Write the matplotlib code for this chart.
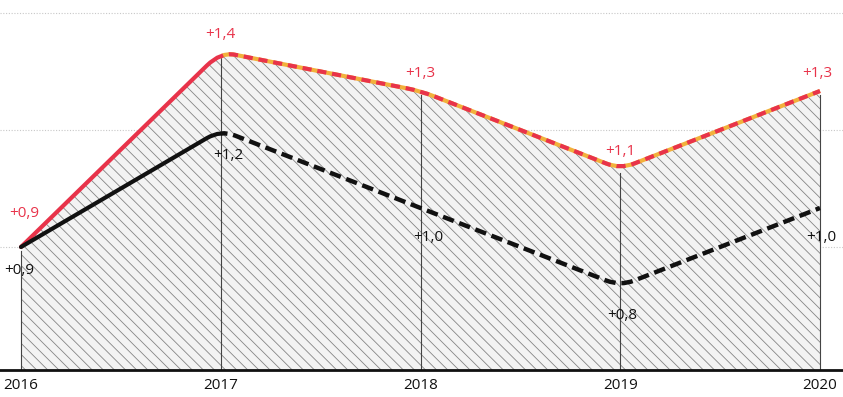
import matplotlib
matplotlib.use("Agg")
import matplotlib.pyplot as plt
from matplotlib.path import Path
from matplotlib.patches import PathPatch, Rectangle

years = [2016, 2017, 2018, 2019, 2020]
red_vals = [0.9, 1.4, 1.3, 1.1, 1.3]
black_vals = [0.9, 1.2, 1.0, 0.8, 1.0]
red_labels = ["+0,9", "+1,4", "+1,3", "+1,1", "+1,3"]
black_labels = ["+0,9", "+1,2", "+1,0", "+0,8", "+1,0"]
grid_vals = [0.9, 1.2, 1.5]

RED = "#e8334a"
ORANGE = "#f2b13c"
BASE = 0.5846
plt.rcParams["font.family"] = ["Open Sans", "DejaVu Sans"]
plt.rcParams["hatch.linewidth"] = 0.6

fig = plt.figure(figsize=(8.43, 3.97), dpi=100)
ax = fig.add_axes([0, 27 / 397, 1, 370 / 397])
ax.set_xlim(2016 - 21 / 199.75, 2020 + 23 / 199.75)
ax.set_ylim(BASE, 1.5333)
ax.axis("off")


def rounded(xs, ys, frac=0.07):
    """Polyline through the points with softened interior corners."""
    verts = [(xs[0], ys[0])]
    codes = [Path.MOVETO]
    for i in range(1, len(xs) - 1):
        px, py = xs[i - 1], ys[i - 1]
        cx, cy = xs[i], ys[i]
        nx, ny = xs[i + 1], ys[i + 1]
        a = (cx + (px - cx) * frac, cy + (py - cy) * frac)
        b = (cx + (nx - cx) * frac, cy + (ny - cy) * frac)
        verts += [a, (cx, cy), b]
        codes += [Path.LINETO, Path.CURVE3, Path.CURVE3]
    verts.append((xs[-1], ys[-1]))
    codes.append(Path.LINETO)
    return Path(verts, codes)


def line(xs, ys, clip=None, **kw):
    p = PathPatch(rounded(xs, ys), fill=False, **kw)
    ax.add_patch(p)
    if clip is not None:
        x0, x1 = clip
        r = Rectangle((x0, 0), x1 - x0, 3, transform=ax.transData)
        p.set_clip_path(r)
    return p


# dotted guide lines
for g in grid_vals:
    ax.axhline(g, color="#c8c8c8", lw=0.8, ls=(0, (1, 1.5)), zorder=0)

# hatched area under the upper series
rp = rounded(years, red_vals)
verts = list(rp.vertices) + [(years[-1], BASE), (years[0], BASE), (years[0], red_vals[0])]
codes = list(rp.codes) + [Path.LINETO, Path.LINETO, Path.CLOSEPOLY]
ax.add_patch(PathPatch(Path(verts, codes), facecolor="#f3f3f3", edgecolor="#858585",
                       hatch="\\\\\\", lw=0, zorder=1))

# year verticals
for x, val in zip(years, red_vals):
    ax.plot([x, x], [BASE, val - 0.01], color="#444444", lw=0.8, zorder=2)

# upper series: solid up to 2017, dashed after
split = 2017.0
line(years, red_vals, clip=(2015, split), color=RED, lw=3, capstyle="round",
     joinstyle="round", zorder=4)
line(years, red_vals, clip=(split, 2021), color=ORANGE, lw=3, joinstyle="round", zorder=3)
line(years, red_vals, clip=(split, 2021), color=RED, lw=3, ls=(0, (2.2, 1.4)),
     joinstyle="round", zorder=4)

# lower series
line(years, black_vals, clip=(2015, split), color="#111111", lw=3, capstyle="round",
     joinstyle="round", zorder=5)
line(years, black_vals, clip=(split, 2021), color="#111111", lw=3.2, ls=(0, (2.6, 1.3)),
     joinstyle="round", zorder=5)

# baseline
ax.axhline(BASE, color="#111111", lw=2, zorder=6, clip_on=False)

# value labels
fs = 11
red_pos = [(2016, 0.985, "left", -0.06), (2017, 1.445, "center", 0),
           (2018, 1.345, "center", 0), (2019, 1.145, "center", 0),
           (2020, 1.345, "right", 0.06)]
for (x, y, ha, dx), t in zip(red_pos, red_labels):
    ax.text(x + dx, y, t, color=RED, fontsize=fs, ha=ha, va="center", zorder=7)

black_pos = [(2016, 0.84, "left", -0.085), (2017, 1.135, "center", 0.04),
             (2018, 0.925, "center", 0.04), (2019, 0.725, "center", 0.01),
             (2020, 0.925, "right", 0.08)]
for (x, y, ha, dx), t in zip(black_pos, black_labels):
    ax.text(x + dx, y, t, color="#111111", fontsize=fs, ha=ha, va="center", zorder=7)

# year tick labels
for x in years:
    ax.text(x, BASE - 0.04, str(x), fontsize=11, ha="center", va="center",
            color="#111111", clip_on=False)

fig.savefig("out.png", dpi=100)
